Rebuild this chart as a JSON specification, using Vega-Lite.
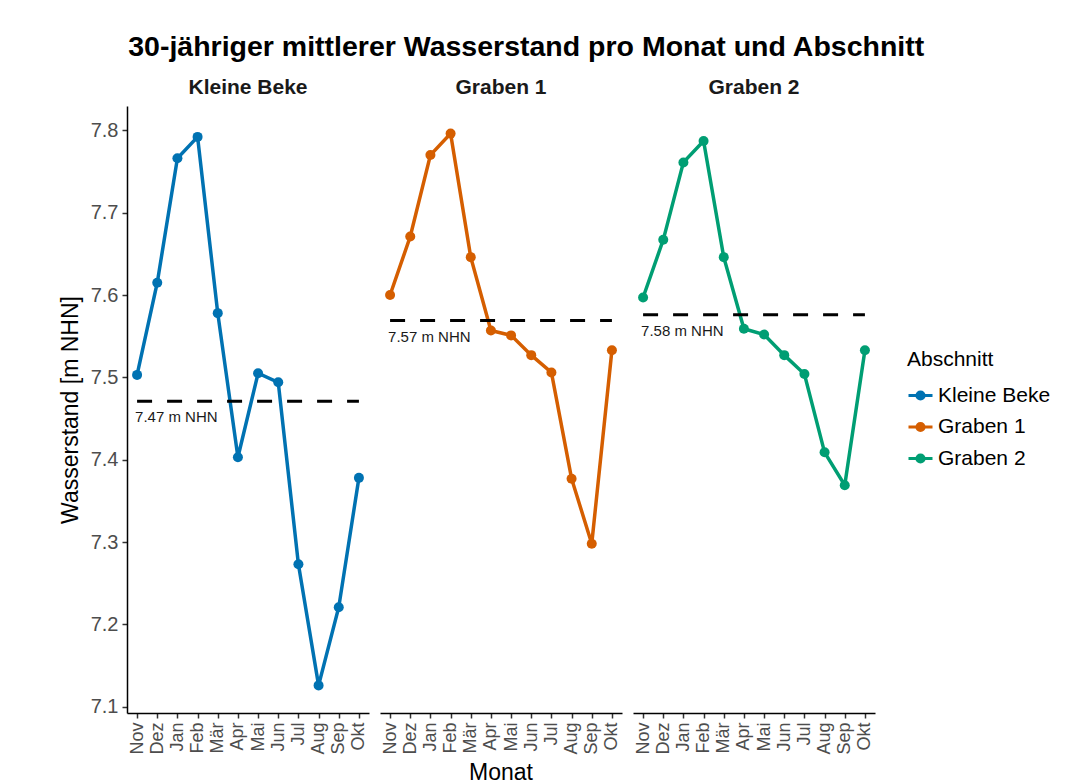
{
  "$schema": "https://vega.github.io/schema/vega-lite/v6.json",
  "padding": {"left": 59, "top": 32, "right": 10, "bottom": 0},
  "background": "white",
  "title": {
    "text": "30-jähriger mittlerer Wasserstand pro Monat und Abschnitt",
    "anchor": "start",
    "fontSize": 28.5,
    "fontWeight": "bold",
    "font": "Liberation Sans",
    "color": "#000000",
    "offset": 16,
    "dx": 69
  },
  "data": {
    "values": [
      {"Abschnitt": "Kleine Beke", "Monat": "Nov", "Wasserstand": 7.503, "Mittel": 7.471, "Beschriftung": "7.47 m NHN"},
      {"Abschnitt": "Kleine Beke", "Monat": "Dez", "Wasserstand": 7.615, "Mittel": 7.471, "Beschriftung": "7.47 m NHN"},
      {"Abschnitt": "Kleine Beke", "Monat": "Jan", "Wasserstand": 7.766, "Mittel": 7.471, "Beschriftung": "7.47 m NHN"},
      {"Abschnitt": "Kleine Beke", "Monat": "Feb", "Wasserstand": 7.792, "Mittel": 7.471, "Beschriftung": "7.47 m NHN"},
      {"Abschnitt": "Kleine Beke", "Monat": "Mär", "Wasserstand": 7.578, "Mittel": 7.471, "Beschriftung": "7.47 m NHN"},
      {"Abschnitt": "Kleine Beke", "Monat": "Apr", "Wasserstand": 7.403, "Mittel": 7.471, "Beschriftung": "7.47 m NHN"},
      {"Abschnitt": "Kleine Beke", "Monat": "Mai", "Wasserstand": 7.505, "Mittel": 7.471, "Beschriftung": "7.47 m NHN"},
      {"Abschnitt": "Kleine Beke", "Monat": "Jun", "Wasserstand": 7.494, "Mittel": 7.471, "Beschriftung": "7.47 m NHN"},
      {"Abschnitt": "Kleine Beke", "Monat": "Jul", "Wasserstand": 7.273, "Mittel": 7.471, "Beschriftung": "7.47 m NHN"},
      {"Abschnitt": "Kleine Beke", "Monat": "Aug", "Wasserstand": 7.126, "Mittel": 7.471, "Beschriftung": "7.47 m NHN"},
      {"Abschnitt": "Kleine Beke", "Monat": "Sep", "Wasserstand": 7.221, "Mittel": 7.471, "Beschriftung": "7.47 m NHN"},
      {"Abschnitt": "Kleine Beke", "Monat": "Okt", "Wasserstand": 7.378, "Mittel": 7.471, "Beschriftung": "7.47 m NHN"},
      {"Abschnitt": "Graben 1", "Monat": "Nov", "Wasserstand": 7.600, "Mittel": 7.569, "Beschriftung": "7.57 m NHN"},
      {"Abschnitt": "Graben 1", "Monat": "Dez", "Wasserstand": 7.671, "Mittel": 7.569, "Beschriftung": "7.57 m NHN"},
      {"Abschnitt": "Graben 1", "Monat": "Jan", "Wasserstand": 7.770, "Mittel": 7.569, "Beschriftung": "7.57 m NHN"},
      {"Abschnitt": "Graben 1", "Monat": "Feb", "Wasserstand": 7.796, "Mittel": 7.569, "Beschriftung": "7.57 m NHN"},
      {"Abschnitt": "Graben 1", "Monat": "Mär", "Wasserstand": 7.646, "Mittel": 7.569, "Beschriftung": "7.57 m NHN"},
      {"Abschnitt": "Graben 1", "Monat": "Apr", "Wasserstand": 7.557, "Mittel": 7.569, "Beschriftung": "7.57 m NHN"},
      {"Abschnitt": "Graben 1", "Monat": "Mai", "Wasserstand": 7.551, "Mittel": 7.569, "Beschriftung": "7.57 m NHN"},
      {"Abschnitt": "Graben 1", "Monat": "Jun", "Wasserstand": 7.527, "Mittel": 7.569, "Beschriftung": "7.57 m NHN"},
      {"Abschnitt": "Graben 1", "Monat": "Jul", "Wasserstand": 7.506, "Mittel": 7.569, "Beschriftung": "7.57 m NHN"},
      {"Abschnitt": "Graben 1", "Monat": "Aug", "Wasserstand": 7.377, "Mittel": 7.569, "Beschriftung": "7.57 m NHN"},
      {"Abschnitt": "Graben 1", "Monat": "Sep", "Wasserstand": 7.298, "Mittel": 7.569, "Beschriftung": "7.57 m NHN"},
      {"Abschnitt": "Graben 1", "Monat": "Okt", "Wasserstand": 7.533, "Mittel": 7.569, "Beschriftung": "7.57 m NHN"},
      {"Abschnitt": "Graben 2", "Monat": "Nov", "Wasserstand": 7.597, "Mittel": 7.576, "Beschriftung": "7.58 m NHN"},
      {"Abschnitt": "Graben 2", "Monat": "Dez", "Wasserstand": 7.667, "Mittel": 7.576, "Beschriftung": "7.58 m NHN"},
      {"Abschnitt": "Graben 2", "Monat": "Jan", "Wasserstand": 7.761, "Mittel": 7.576, "Beschriftung": "7.58 m NHN"},
      {"Abschnitt": "Graben 2", "Monat": "Feb", "Wasserstand": 7.787, "Mittel": 7.576, "Beschriftung": "7.58 m NHN"},
      {"Abschnitt": "Graben 2", "Monat": "Mär", "Wasserstand": 7.646, "Mittel": 7.576, "Beschriftung": "7.58 m NHN"},
      {"Abschnitt": "Graben 2", "Monat": "Apr", "Wasserstand": 7.559, "Mittel": 7.576, "Beschriftung": "7.58 m NHN"},
      {"Abschnitt": "Graben 2", "Monat": "Mai", "Wasserstand": 7.552, "Mittel": 7.576, "Beschriftung": "7.58 m NHN"},
      {"Abschnitt": "Graben 2", "Monat": "Jun", "Wasserstand": 7.527, "Mittel": 7.576, "Beschriftung": "7.58 m NHN"},
      {"Abschnitt": "Graben 2", "Monat": "Jul", "Wasserstand": 7.504, "Mittel": 7.576, "Beschriftung": "7.58 m NHN"},
      {"Abschnitt": "Graben 2", "Monat": "Aug", "Wasserstand": 7.409, "Mittel": 7.576, "Beschriftung": "7.58 m NHN"},
      {"Abschnitt": "Graben 2", "Monat": "Sep", "Wasserstand": 7.369, "Mittel": 7.576, "Beschriftung": "7.58 m NHN"},
      {"Abschnitt": "Graben 2", "Monat": "Okt", "Wasserstand": 7.533, "Mittel": 7.576, "Beschriftung": "7.58 m NHN"}
    ]
  },
  "facet": {
    "column": {
      "field": "Abschnitt",
      "type": "nominal",
      "title": "Monat",
      "sort": ["Kleine Beke", "Graben 1", "Graben 2"],
      "header": {
        "labelOrient": "top",
        "titleOrient": "bottom",
        "titleFontSize": 23,
        "titleFontWeight": "normal",
        "titleFont": "Liberation Sans",
        "titleColor": "#000000",
        "titlePadding": -3,
        "labelFontSize": 21,
        "labelFontWeight": "bold",
        "labelFont": "Liberation Sans",
        "labelColor": "#1a1a1a",
        "labelPadding": 8
      }
    }
  },
  "spacing": 11,
  "spec": {
    "width": 242,
    "height": 607,
    "encoding": {
      "x": {
        "field": "Monat",
        "type": "ordinal",
        "sort": ["Nov", "Dez", "Jan", "Feb", "Mär", "Apr", "Mai", "Jun", "Jul", "Aug", "Sep", "Okt"],
        "scale": {"type": "point", "padding": 0.5},
        "axis": {"title": null, "labelAngle": -90}
      },
      "y": {
        "type": "quantitative",
        "scale": {"domain": [7.0925, 7.8295], "nice": false, "zero": false}
      }
    },
    "layer": [
      {
        "mark": {"type": "line", "strokeWidth": 3.5},
        "encoding": {
          "y": {"field": "Wasserstand", "type": "quantitative", "title": "Wasserstand [m NHN]", "axis": {"values": [7.1, 7.2, 7.3, 7.4, 7.5, 7.6, 7.7, 7.8], "format": ".1f"}},
          "color": {
            "field": "Abschnitt",
            "type": "nominal",
            "scale": {"domain": ["Kleine Beke", "Graben 1", "Graben 2"], "range": ["#0072B2", "#D55E00", "#009E73"]},
            "legend": {
              "title": "Abschnitt",
              "orient": "none",
              "legendX": 780,
              "legendY": 243,
              "symbolType": "M-1,0L1,0M-0.3,0A0.3,0.3 0 1,0 0.3,0A0.3,0.3 0 1,0 -0.3,0Z",
              "symbolSize": 576,
              "symbolStrokeWidth": 3,
              "rowPadding": 7.5,
              "encode": {
                "symbols": {
                  "update": {
                    "fill": {"scale": "color", "field": "value"},
                    "stroke": {"scale": "color", "field": "value"},
                    "strokeWidth": {"value": 3},
                    "opacity": {"value": 1}
                  }
                }
              }
            }
          }
        }
      },
      {
        "mark": {"type": "point", "filled": true, "size": 100, "opacity": 1},
        "encoding": {
          "y": {"field": "Wasserstand", "type": "quantitative"},
          "color": {"field": "Abschnitt", "type": "nominal"}
        }
      },
      {
        "mark": {"type": "line", "color": "#000000", "strokeWidth": 3, "strokeDash": [15, 15]},
        "encoding": {
          "y": {"field": "Mittel", "type": "quantitative"},
          "detail": {"field": "Abschnitt", "type": "nominal"}
        }
      },
      {
        "transform": [{"filter": {"field": "Monat", "equal": "Nov"}}],
        "mark": {"type": "text", "align": "left", "baseline": "middle", "dx": -2, "dy": 16, "fontSize": 15, "font": "Liberation Sans", "color": "#1a1a1a"},
        "encoding": {
          "y": {"field": "Mittel", "type": "quantitative"},
          "text": {"field": "Beschriftung", "type": "nominal"}
        }
      }
    ]
  },
  "config": {
    "font": "Liberation Sans",
    "view": {"stroke": null},
    "axis": {
      "grid": false,
      "domainColor": "#000000",
      "domainWidth": 1.5,
      "tickColor": "#333333",
      "tickWidth": 1.5,
      "tickSize": 5,
      "labelColor": "#4d4d4d",
      "labelFont": "Liberation Sans",
      "titleFont": "Liberation Sans",
      "titleFontWeight": "normal",
      "titleColor": "#000000",
      "titleFontSize": 23
    },
    "axisX": {"labelFontSize": 18, "labelPadding": 4, "titlePadding": 6},
    "axisY": {"labelFontSize": 20, "labelPadding": 4, "titlePadding": 8},
    "legend": {
      "titleFontSize": 21,
      "titleFontWeight": "normal",
      "titleColor": "#000000",
      "titleFont": "Liberation Sans",
      "labelFontSize": 21,
      "labelColor": "#000000",
      "labelFont": "Liberation Sans",
      "titlePadding": 12
    }
  }
}
